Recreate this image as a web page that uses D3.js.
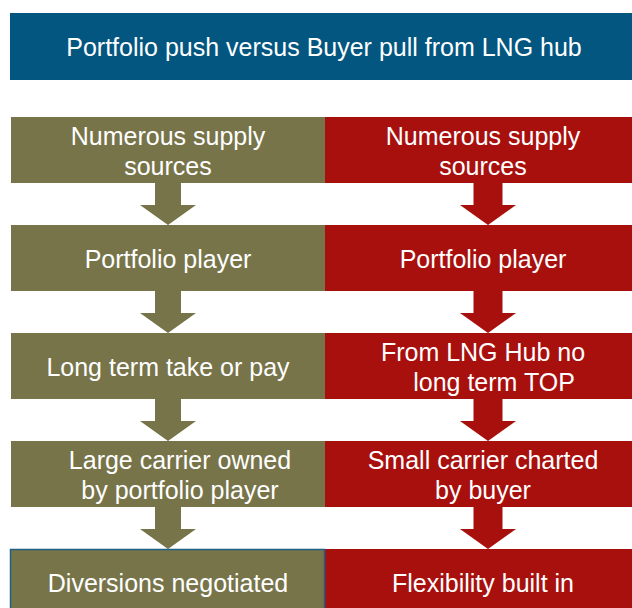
<!DOCTYPE html>
<html>
<head>
<meta charset="utf-8">
<script src="https://cdn.jsdelivr.net/npm/d3@7"></script>
<style>
  html, body { margin: 0; padding: 0; background: #fff; overflow: hidden; }
  svg { display: block; font-family: "Liberation Sans", Arial, sans-serif; }
</style>
</head>
<body>
<div id="chart"></div>
<script>
// Portfolio push vs buyer pull flow
const title = "Portfolio push versus Buyer pull from LNG hub";
const columns = ["push", "pull"];
const pushSteps = [
  ["Numerous supply", "sources"],
  ["Portfolio player"],
  ["Long term take or pay"],
  ["Large carrier owned", "by portfolio player"],
  ["Diversions negotiated"]
];
const pullSteps = [
  ["Numerous supply", "sources"],
  ["Portfolio player"],
  ["From LNG Hub no", "long term TOP"],
  ["Small carrier charted", "by buyer"],
  ["Flexibility built in"]
];

const width = 632, height = 608;
const colors = { push: "#77744A", pull: "#A8100E" };
const steps = { push: pushSteps, pull: pullSteps };

const svg = d3.select("#chart").append("svg")
  .attr("width", width)
  .attr("height", height);

// header bar
svg.append("rect")
  .attr("x", 10).attr("y", 13)
  .attr("width", width - 10).attr("height", 67)
  .attr("fill", "#02567F");
svg.append("text")
  .attr("x", 324).attr("y", 47)
  .attr("text-anchor", "middle")
  .attr("dominant-baseline", "central")
  .attr("fill", "#fff")
  .style("font-size", "25px")
  .text(title);

const x = d3.scaleBand().domain(columns).range([11, 639]);
const y = d3.scaleLinear().domain([0, 1]).range([117, 225]);
const boxH = 66;

// the text boxes in the original are not all centred the same
const nudge = { "Large carrier owned": 12, "by portfolio player": 12, "long term TOP": 11 };

columns.forEach(col => {
  const g = svg.append("g");
  const cx = x(col) + (col === "push" ? 157 : 163);
  const tx = col === "push" ? 168 : 483;
  const data = steps[col].map((lines, i) => ({ lines, i }));

  // arrows between boxes
  data.slice(0, -1).forEach(d => {
    const top = y(d.i) + boxH - 1;
    const tip = y(d.i + 1);
    const headY = tip - 20;
    const sw = col === "push" ? 13 : 14.5;
    const hw = 28;
    g.append("path")
      .attr("d", `M${cx - sw},${top} L${cx + sw},${top} L${cx + sw},${headY} L${cx + hw},${headY}
        L${cx},${tip} L${cx - hw},${headY} L${cx - sw},${headY} Z`)
      .attr("fill", colors[col]);
  });

  g.selectAll("rect.box")
    .data(data)
    .enter()
    .append("rect")
    .attr("class", "box")
    .attr("x", x(col))
    .attr("y", d => y(d.i))
    .attr("width", x.bandwidth())
    .attr("height", boxH)
    .attr("fill", colors[col]);

  g.selectAll("text.lbl")
    .data(data)
    .enter()
    .append("text")
    .attr("class", "lbl")
    .attr("y", d => y(d.i) + boxH / 2 + 1 - (d.lines.length - 1) * 15)
    .attr("text-anchor", "middle")
    .attr("dominant-baseline", "central")
    .attr("fill", "#fff")
    .style("font-size", "25px")
    .selectAll("tspan")
    .data(d => d.lines)
    .enter()
    .append("tspan")
    .attr("x", l => tx + (nudge[l] || 0))
    .attr("dy", (l, j) => j === 0 ? 0 : 30)
    .text(l => l);
});

// thin blue outline on the last left box
svg.append("rect")
  .attr("x", x("push") - 0.5)
  .attr("y", y(4) + 0.5)
  .attr("width", x.bandwidth())
  .attr("height", boxH)
  .attr("fill", "none")
  .attr("stroke", "#1F5F88")
  .attr("stroke-width", 1.5);
</script>
</body>
</html>
